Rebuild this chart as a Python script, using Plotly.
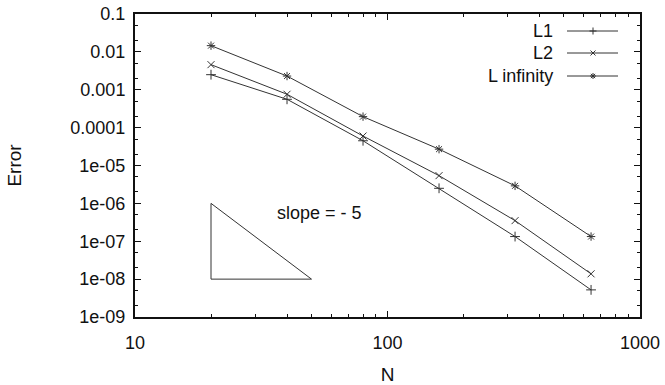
import numpy as np
import plotly.graph_objects as go

# ---- data ----
N_values = [20, 40, 80, 160, 320, 640]
err_L1 = [2.5e-3, 5.6e-4, 4.5e-5, 2.5e-6, 1.33e-7, 5.2e-9]
err_L2 = [4.6e-3, 7.6e-4, 6.0e-5, 5.4e-6, 3.5e-7, 1.38e-8]
err_Linf = [1.46e-2, 2.3e-3, 1.95e-4, 2.7e-5, 2.9e-6, 1.33e-7]
series_names = ["L1", "L2", "L infinity"]
series_symbols = ["cross-thin-open", "x-thin-open", "asterisk-open"]

slope_tri_x = [20, 20, 50, 20]
slope_tri_y = [1e-6, 1e-8, 1e-8, 1e-6]
slope_label = "slope = - 5"

y_tick_vals = [1e-1, 1e-2, 1e-3, 1e-4, 1e-5, 1e-6, 1e-7, 1e-8, 1e-9]
y_tick_labels = ["0.1", "0.01", "0.001", "0.0001", "1e-05", "1e-06", "1e-07", "1e-08", "1e-09"]
x_tick_vals = [10, 100, 1000]
x_tick_labels = ["10", "100", "1000"]

FONT = "Liberation Sans, Arial, sans-serif"
TXT = "#111111"
LINE = "#333333"

fig = go.Figure()
for name, ys, sym in zip(series_names, [err_L1, err_L2, err_Linf], series_symbols):
    fig.add_trace(go.Scatter(
        x=N_values, y=ys, mode="lines+markers", name=name,
        line=dict(color=LINE, width=1),
        marker=dict(symbol=sym, size=7, color=LINE, line=dict(color=LINE, width=1)),
        showlegend=False,
    ))

fig.add_trace(go.Scatter(
    x=slope_tri_x, y=slope_tri_y, mode="lines",
    line=dict(color=LINE, width=1), showlegend=False, hoverinfo="skip",
))

# manual legend on an overlay axis in [0,1] coordinates
L, R, T, B = 135, 640, 14, 317
W, H = 665, 385
def px(xp):
    return (xp - L) / (R - L)
def py(yp):
    return (B - yp) / (B - T)

legend_rows = [31, 53, 76]
for name, sym, yr in zip(series_names, series_symbols, legend_rows):
    fig.add_trace(go.Scatter(
        x=[px(567), px(618)], y=[py(yr), py(yr)], mode="lines",
        line=dict(color=LINE, width=1), xaxis="x2", yaxis="y2",
        showlegend=False, hoverinfo="skip",
    ))
    fig.add_trace(go.Scatter(
        x=[px(593)], y=[py(yr)], mode="markers",
        marker=dict(symbol=sym, size=5, color=LINE, line=dict(color=LINE, width=1)),
        xaxis="x2", yaxis="y2", showlegend=False, hoverinfo="skip",
    ))
    fig.add_annotation(
        x=px(555), y=py(yr), xref="x2", yref="y2", text=name, showarrow=False,
        xanchor="right", yanchor="middle", font=dict(family=FONT, size=18, color=TXT),
    )

fig.add_annotation(
    x=np.log10(54), y=np.log10(5.6e-7), xref="x", yref="y", text=slope_label,
    showarrow=False, xanchor="center", yanchor="middle",
    font=dict(family=FONT, size=18, color=TXT),
)

axis_common = dict(
    showline=True, linecolor="#111111", linewidth=2, mirror="allticks",
    ticks="inside", ticklen=6, tickwidth=1, tickcolor="#111111",
    showgrid=False, zeroline=False, automargin=False,
    tickfont=dict(family=FONT, size=18, color=TXT),
)

fig.update_layout(
    width=W, height=H,
    margin=dict(l=L, r=W - R, t=T, b=H - B),
    paper_bgcolor="white", plot_bgcolor="white",
    xaxis=dict(
        type="log", range=[1, 3], tickvals=x_tick_vals, ticktext=x_tick_labels,
        title=dict(text="N", font=dict(family=FONT, size=19, color=TXT), standoff=20),
        minor=dict(dtick="D1", ticks="inside", ticklen=3, tickcolor="#111111", showgrid=False),
        ticklabelstandoff=8,
        **axis_common,
    ),
    yaxis=dict(
        type="log", range=[-9, -1], tickvals=y_tick_vals, ticktext=y_tick_labels,
        title=dict(text="Error", font=dict(family=FONT, size=19, color=TXT), standoff=44),
        minor=dict(tickvals=[v * m for v in [1e-9, 1e-8, 1e-7, 1e-6, 1e-5, 1e-4, 1e-3, 1e-2] for m in [2, 5]],
                   ticks="inside", ticklen=3, tickcolor="#111111", showgrid=False),
        ticklabelstandoff=4,
        **axis_common,
    ),
    xaxis2=dict(range=[0, 1], overlaying="x", visible=False, fixedrange=True),
    yaxis2=dict(range=[0, 1], overlaying="y", visible=False, fixedrange=True),
)

fig.write_html("out.html")
